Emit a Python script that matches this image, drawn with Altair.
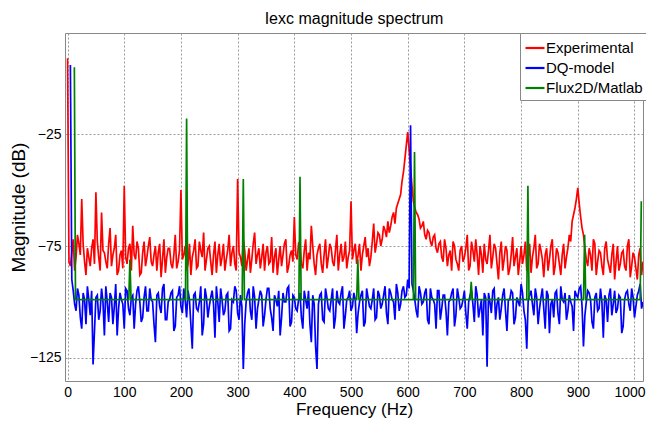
import altair as alt
import pandas as pd

series_names = ["Experimental", "DQ-model", "Flux2D/Matlab"]
series_colors = ["#FF0000", "#0000FF", "#008000"]

x_ticks = [0, 100, 200, 300, 400, 500, 600, 700, 800, 900, 1000]
y_ticks = [-125, -75, -25]

# Experimental spectrum, read every 5 Hz from 0 to 1015 Hz
exp_freq = list(range(0, 1016, 5))
exp_db = [
    9, -84, -72, -80, -74, -54, -82, -76, -84, -72, -51, -80, -60, -78, -85, -67, -79, -70, -86, -77,
    -48, -83, -74, -66, -81, -76, -87, -73, -80, -71, -84, -75, -78, -89, -72, -80, -76, -85, -70, -82,
    -50, -79, -86, -74, -80, -72, -84, -77, -69, -81, -75, -88, -73, -79, -84, -74, -81, -70, -78, -83,
    -45, -80, -72, -86, -76, -81, -69, -79, -85, -74, -78, -83, -71, -80, -88, -75, -79, -72, -84, -77,
    -62, -81, -75, -85, -72, -78, -66, -83, -79, -74, -87, -72, -80, -76, -84, -70, -79, -82, -73, -80,
    -55, -77, -83, -74, -79, -71, -76, -80, -65, -74, -70, -72, -68, -64, -66, -60, -58, -54, -46, -36,
    -24, -40, -55, -60, -63, -66, -70, -68, -73, -71, -76, -74, -80, -72, -84, -77, -73, -81, -86, -75,
    -80, -70, -84, -77, -72, -88, -79, -74, -83, -70, -80, -76, -90, -73, -81, -77, -85, -71, -80, -88,
    -75, -79, -86, -74, -80, -70, -83, -77, -89, -76, -81, -72, -84, -78, -88, -74, -80, -70, -64, -58,
    -49, -62, -70, -81, -76, -86, -74, -82, -78, -88, -73, -84, -79, -90, -75, -83, -77, -86, -72, -84,
    -80, -90, -76, -82,
]
# Experimental spectrum, in-between readings at 2.5, 7.5, ... 1012.5 Hz
exp_mid_freq = [f + 2.5 for f in range(0, 1011, 5)]
exp_mid_db = [
    -82, -78, -86, -70, -79, -74, -88, -80, -76, -83, -73, -86, -77, -82, -74, -84, -76, -88, -79, -85,
    -80, -76, -86, -79, -73, -88, -78, -84, -75, -82, -79, -86, -74, -81, -87, -76, -83, -79, -85, -77,
    -81, -75, -83, -88, -77, -85, -73, -80, -86, -76, -82, -79, -87, -74, -80, -86, -77, -84, -75, -86,
    -78, -84, -77, -81, -87, -74, -83, -76, -80, -86, -75, -82, -87, -76, -81, -84, -74, -87, -79, -82,
    -79, -74, -83, -77, -86, -81, -75, -88, -76, -83, -79, -85, -74, -82, -77, -86, -74, -80, -85, -77,
    -81, -74, -79, -86, -75, -80, -84, -73, -78, -69, -75, -66, -71, -69, -62, -65, -56, -52, -42, -30,
    -32, -48, -58, -61, -67, -64, -72, -69, -75, -70, -78, -73, -82, -76, -79, -86, -75, -83, -77, -82,
    -76, -86, -73, -82, -79, -75, -87, -81, -77, -85, -74, -83, -78, -86, -75, -88, -79, -84, -76, -82,
    -83, -73, -80, -87, -76, -85, -74, -81, -79, -86, -75, -88, -76, -83, -79, -85, -76, -73, -61, -54,
    -56, -67, -76, -84, -79, -72, -88, -77, -84, -76, -81, -87, -74, -82, -86, -78, -84, -75, -89, -78,
    -85, -79, -88,
]

# DQ-model spectrum, read every 5 Hz from 5 to 1015 Hz
dq_freq = list(range(5, 1016, 5))
dq_db = [
    6, -95, -104, -97, -112, -99, -93, -106, -128, -98, -108, -94, -115, -100, -96, -110, -92, -103, -99, -112,
    -95, -106, -97, -101, -93, -109, -98, -104, -94, -100, -118, -96, -105, -92, -108, -99, -95, -111, -97, -102,
    -94, -107, -99, -121, -96, -104, -93, -110, -98, -102, -95, -116, -100, -94, -106, -97, -113, -99, -93, -105,
    -97, -130, -100, -94, -108, -98, -103, -95, -111, -99, -94, -107, -97, -102, -115, -96, -100, -93, -109, -98,
    -104, -96, -112, -99, -95, -118, -101, -130, -97, -108, -94, -103, -99, -112, -95, -101, -93, -106, -98, -104,
    -96, -114, -100, -95, -109, -98, -103, -94, -107, -97, -101, -93, -110, -96, -100, -92, -104, -95, -98, -90,
    -21, -95, -104, -93, -101, -96, -108, -94, -99, -112, -95, -103, -97, -115, -99, -94, -106, -98, -102, -95,
    -112, -97, -101, -93, -107, -99, -96, -129, -100, -95, -108, -98, -103, -94, -113, -99, -96, -107, -100, -92,
    -104, -121, -97, -101, -94, -110, -98, -103, -95, -114, -99, -96, -105, -93, -100, -108, -97, -102, -95, -98,
    -93, -120, -100, -96, -109, -98, -104, -94, -116, -99, -97, -106, -95, -103, -98, -111, -96, -101, -94, -107,
    -97, -92, -100,
]
# DQ-model spectrum, in-between readings at 7.5, 12.5, ... 1012.5 Hz
dq_mid_freq = [f + 2.5 for f in range(5, 1011, 5)]
dq_mid_db = [
    -90, -101, -94, -107, -96, -110, -99, -95, -113, -97, -104, -100, -93, -109, -98, -102, -115, -96, -101, -94,
    -103, -98, -112, -95, -100, -107, -93, -104, -99, -110, -97, -102, -94, -108, -100, -96, -113, -98, -93, -105,
    -99, -95, -110, -97, -103, -100, -115, -94, -107, -98, -101, -93, -109, -99, -104, -96, -112, -100, -95, -108,
    -102, -110, -96, -104, -93, -112, -99, -97, -106, -94, -103, -113, -99, -95, -107, -100, -94, -111, -97, -103,
    -99, -107, -95, -103, -110, -97, -120, -101, -96, -109, -98, -104, -94, -107, -100, -96, -112, -99, -95, -102,
    -99, -105, -97, -111, -94, -102, -99, -108, -95, -103, -97, -105, -94, -99, -108, -96, -101, -93, -97, -94,
    -92, -99, -107, -96, -100, -94, -110, -98, -101, -95, -108, -97, -104, -100, -96, -111, -94, -103, -99, -105,
    -100, -95, -109, -97, -103, -115, -98, -96, -105, -94, -101, -108, -97, -104, -99, -95, -110, -98, -102, -96,
    -108, -99, -95, -106, -98, -103, -94, -112, -97, -101, -107, -95, -110, -99, -96, -104, -100, -113, -97, -94,
    -102, -106, -95, -99, -112, -96, -103, -100, -97, -109, -94, -101, -105, -97, -114, -99, -95, -104, -98, -102,
    -95, -103,
]

# Flux2D/Matlab spectrum: flat floor with harmonic lines
fx_freq = [12, 14, 108, 110, 112, 208, 210, 212, 308, 310, 312, 408, 410, 412, 510, 512, 514,
           610, 612, 614, 710, 712, 714, 810, 812, 814, 910, 912, 914, 1010, 1012]
fx_db = [5, -99, -99, -81, -99, -99, -18, -99, -99, -45, -99, -99, -44, -99, -99, -81, -99,
         -99, -33, -99, -99, -91, -99, -99, -48, -99, -99, -70, -99, -99, -55]

rows = []
for f, v in zip(exp_freq + exp_mid_freq, exp_db + exp_mid_db):
    rows.append({"f": f, "db": v, "s": series_names[0]})
for f, v in zip(dq_freq + dq_mid_freq, dq_db + dq_mid_db):
    rows.append({"f": f, "db": v, "s": series_names[1]})
for f, v in zip(fx_freq, fx_db):
    rows.append({"f": f, "db": v, "s": series_names[2]})
df = pd.DataFrame(rows).sort_values(["s", "f"]).reset_index(drop=True)

FONT = "Liberation Sans"

base = alt.Chart(df).mark_line(strokeWidth=1.7, clip=True).encode(
    x=alt.X("f:Q",
            scale=alt.Scale(domain=[-4.5, 1015], nice=False, zero=False),
            axis=alt.Axis(values=x_ticks, title="Frequency (Hz)", labelPadding=4,
                          titlePadding=2, titleFontSize=17, format="d",
                          labelOffset={"condition": {"test": "datum.value == 1000", "value": -5},
                                       "value": 0})),
    y=alt.Y("db:Q",
            scale=alt.Scale(domain=[-135.4, 20.3], nice=False, zero=False),
            axis=alt.Axis(values=y_ticks, title="Magnitude (dB)", labelPadding=4,
                          titlePadding=1, titleFontSize=19)),
    color=alt.Color("s:N",
                    scale=alt.Scale(domain=series_names, range=series_colors),
                    legend=alt.Legend(title=None, orient="none", legendX=455, legendY=0,
                                      padding=4, strokeColor="#888888", fillColor="white",
                                      symbolType="stroke", symbolSize=361,
                                      symbolStrokeWidth=2.2, symbolOffset=0,
                                      labelFontSize=15, labelFont=FONT, labelColor="black",
                                      rowPadding=1, labelOffset=0)),
)

layers = [base.transform_filter(alt.datum.s == name) for name in series_names]

chart = alt.layer(*layers).properties(
    width=578,
    height=348,
    title=alt.TitleParams("Iexc magnitude spectrum", fontSize=16, font=FONT,
                          fontWeight="normal", color="black", offset=6),
    autosize=alt.AutoSizeParams(type="none"),
    padding={"left": 57, "top": 25, "right": 3, "bottom": 44},
).configure_view(
    stroke="#888888", strokeWidth=1
).configure_axis(
    labelFont=FONT, titleFont=FONT, labelFontSize=14,
    titleFontWeight="normal", labelColor="black", titleColor="black",
    domain=False, ticks=False, grid=True, gridColor="#999999",
    gridDash=[2, 2], gridWidth=1, gridOpacity=1
)

chart.save("out.html", embed_options={"renderer": "svg", "actions": False})
